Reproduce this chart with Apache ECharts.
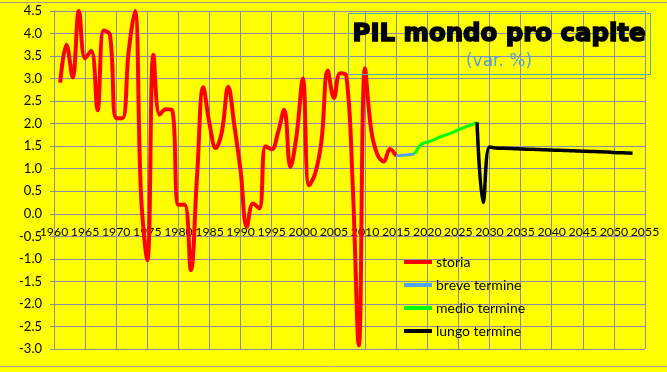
<!DOCTYPE html>
<html>
<head>
<meta charset="utf-8">
<script src="https://cdn.jsdelivr.net/npm/echarts@6/dist/echarts.min.js"></script>
<style>
html,body{margin:0;padding:0;background:#FFFF00;}
#c{width:667px;height:372px;}
</style>
</head>
<body>
<div id="c"></div>
<script>
// ---- data ----
const storiaYears = [1961,1962,1963,1964,1965,1966,1967,1968,1969,1970,1971,1972,1973,1974,1975,1976,1977,1978,1979,1980,1981,1982,1983,1984,1985,1986,1987,1988,1989,1990,1991,1992,1993,1994,1995,1996,1997,1998,1999,2000,2001,2002,2003,2004,2005,2006,2007,2008,2009,2010,2011,2012,2013,2014,2015];
const storiaValues = [2.91,3.75,3.03,4.5,3.45,3.62,2.3,4.07,3.97,2.12,2.12,3.6,4.5,0.4,-1.03,3.53,2.2,2.32,2.3,0.2,0.2,-1.25,0.85,2.81,2.0,1.46,1.83,2.82,1.95,0.95,-0.29,0.23,0.12,1.5,1.43,1.8,2.31,1.04,1.75,3.0,0.63,0.9,1.62,3.18,2.57,3.12,3.06,0.7,-2.92,3.23,1.85,1.31,1.16,1.44,1.28];

const breveYears = [2015,2016,2017,2018];
const breveValues = [1.28,1.3,1.31,1.33];

const medioYears = [2018,2019,2020,2021,2022,2023,2024,2025,2026,2027,2028];
const medioValues = [1.33,1.54,1.59,1.64,1.7,1.75,1.8,1.86,1.92,1.97,2.03];

const lungoYears = [2028,2029,2030,2031,2032,2033,2034,2035,2036,2037,2038,2039,2040,2041,2042,2043,2044,2045,2046,2047,2048,2049,2050,2051,2052,2053];
const lungoValues = [2.03,0.25,1.48,1.46,1.455,1.45,1.445,1.44,1.435,1.43,1.425,1.42,1.415,1.41,1.405,1.4,1.395,1.39,1.385,1.38,1.375,1.37,1.36,1.355,1.35,1.345];

const seriesNames = ['storia','breve termine','medio termine','lungo termine'];
const titleText = 'PIL mondo pro capite';
const subtitleText = '(var. %)';
const xMin = 1960, xMax = 2055, xStep = 5;
const yMin = -3, yMax = 4.5, yStep = 0.5;

function pairs(xs, ys){ return xs.map((x,i)=>[x, ys[i]]); }

const gridTop = 11, gridBottom = 23, chartH = 372;
const plotH = chartH - gridTop - gridBottom;
// place the x axis (line + labels) on the value 0, as in the original
const zeroOffset = -(plotH * (0 - yMin) / (yMax - yMin));

const gridColor = '#8A8AAA';
const chart = echarts.init(document.getElementById('c'), null, {renderer:'canvas'});
const fontFam = 'Lato, "Open Sans", sans-serif';

chart.setOption({
  backgroundColor:'#FFFF00',
  animation:false,
  grid:{left:54, right:22, top:gridTop, bottom:gridBottom, outerBoundsMode:'none', containLabel:false},
  xAxis:{
    type:'value', min:xMin, max:xMax, interval:xStep,
    offset:zeroOffset,
    axisLine:{show:true, onZero:false, lineStyle:{color:gridColor, width:1}},
    axisTick:{show:false},
    axisLabel:{margin:12, hideOverlap:false, showMinLabel:true, showMaxLabel:true, formatter:v=>String(v), fontFamily:fontFam, fontSize:12.3, color:'#000'},
    splitLine:{show:true, lineStyle:{color:gridColor, width:1}}
  },
  yAxis:{
    type:'value', min:yMin, max:yMax, interval:yStep,
    axisLine:{show:true, onZero:false, lineStyle:{color:gridColor, width:1}},
    axisTick:{show:true, length:4, lineStyle:{color:gridColor}},
    axisLabel:{margin:12, formatter:v=>v.toFixed(1), fontFamily:fontFam, fontSize:13, color:'#000'},
    splitLine:{show:true, lineStyle:{color:gridColor, width:1}}
  },
  legend:{
    orient:'vertical', left:404, top:255,
    icon:'rect', itemWidth:28, itemHeight:4, itemGap:9, padding:0,
    textStyle:{fontFamily:fontFam, fontSize:14, color:'#000', padding:[0,0,0,-1]},
    data:seriesNames
  },
  series:[
    {name:seriesNames[0], type:'line', data:pairs(storiaYears, storiaValues), smooth:0.4, symbol:'none', color:'#FF0000', lineStyle:{width:4, color:'#FF0000'}, z:2},
    {name:seriesNames[1], type:'line', data:pairs(breveYears, breveValues), smooth:0.4, symbol:'none', color:'#4DA3F5', lineStyle:{width:3, color:'#4DA3F5'}, z:3},
    {name:seriesNames[2], type:'line', data:pairs(medioYears, medioValues), smooth:0.4, symbol:'none', color:'#00FF00', lineStyle:{width:3, color:'#00FF00'}, z:3},
    {name:seriesNames[3], type:'line', data:pairs(lungoYears, lungoValues), smooth:0.4, symbol:'none', color:'#000000', lineStyle:{width:3.5, color:'#000000'}, z:3}
  ],
  graphic:[
    {type:'line', shape:{x1:0,y1:2.5,x2:667,y2:2.5}, style:{stroke:'#A0A0A0', lineWidth:1}, silent:true},
    {type:'line', shape:{x1:0,y1:366.5,x2:667,y2:366.5}, style:{stroke:'#A0A0A0', lineWidth:1}, silent:true},
    {type:'rect', shape:{x:348.5,y:13.5,width:302,height:61}, style:{fill:null, stroke:'#4BACC6', lineWidth:1}, silent:true, z:10},
    {type:'text', x:499, y:35, style:{text:titleText, font:'bold 24.4px "DejaVu Sans", sans-serif', fill:'#000', stroke:'#000', lineWidth:1.6, align:'center', verticalAlign:'middle', shadowColor:'rgba(0,0,0,0.45)', shadowBlur:2, shadowOffsetX:1, shadowOffsetY:1}, silent:true, z:10},
    {type:'text', x:499, y:62, style:{text:subtitleText, font:'17px "DejaVu Sans", sans-serif', fill:'#4F9EEA', align:'center', verticalAlign:'middle'}, silent:true, z:10}
  ]
});
</script>
</body>
</html>
